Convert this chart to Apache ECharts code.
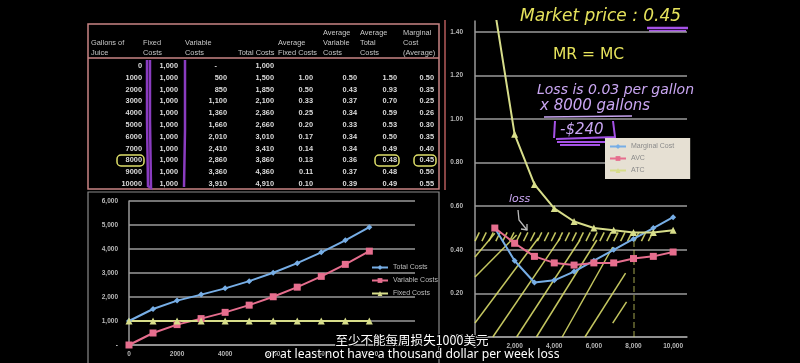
<!DOCTYPE html>
<html><head><meta charset="utf-8">
<script src="https://cdn.jsdelivr.net/npm/echarts@6/dist/echarts.min.js"></script>
<style>html,body{margin:0;padding:0;background:#000;}#c{width:800px;height:363px;}</style>
</head><body><div id="c"></div>
<script>
// ---------- data ----------
const gallons = [0,1000,2000,3000,4000,5000,6000,7000,8000,9000,10000];
const fixedCosts = [1000,1000,1000,1000,1000,1000,1000,1000,1000,1000,1000];
const variableCosts = [0,500,850,1100,1360,1660,2010,2410,2860,3360,3910];
const totalCosts = [1000,1500,1850,2100,2360,2660,3010,3410,3860,4360,4910];
const avgFixed = [null,1.00,0.50,0.33,0.25,0.20,0.17,0.14,0.13,0.11,0.10];
const avgVariable = [null,0.50,0.43,0.37,0.34,0.33,0.34,0.34,0.36,0.37,0.39];
const avgTotal = [null,1.50,0.93,0.70,0.59,0.53,0.50,0.49,0.48,0.48,0.49];
const marginalCost = [null,0.50,0.35,0.25,0.26,0.30,0.35,0.40,0.45,0.50,0.55];

const headers = [
  ["", "Gallons of", "Juice"],
  ["", "Fixed", "Costs"],
  ["", "Variable", "Costs"],
  ["", "", "Total Costs"],
  ["", "Average", "Fixed Costs"],
  ["Average", "Variable", "Costs"],
  ["Average", "Total", "Costs"],
  ["Marginal", "Cost", "(Average)"]
];
const leftXTicks = [0,2000,4000,6000,8000,10000];
const subtitleZh = "至少不能每周损失1000美元";
const subtitleEn = "or at least not have a thousand dollar per week loss";

// annotation hatch (data coordinates of right chart)
const hatchLines = [
  [[0,0.367],[1000,0.476]],
  [[0,0.275],[2100,0.468]],
  [[0,0.064],[3200,0.454]],
  [[900,0],[4300,0.454]],
  [[2100,0],[5300,0.445]],
  [[3100,0],[6150,0.445]],
  [[4400,0],[6950,0.413]],
  [[5550,0],[7600,0.293]],
  [[6950,0.064],[7650,0.161]]
];
const bandX = [0,350,700,1050,1400,1750,2100,2450,2800,3150,3500,3850,4200,4550,4900,5250,5600,5950,6300,6650,7000,7350,7700,8050,8400,8750];
const qLine = [[8000,0],[8000,0.44]];

// ---------- helpers ----------
const fmtInt = v => v === 0 ? "-" : v.toLocaleString("en-US");
const fmt2 = v => v == null ? "" : v.toFixed(2);

const colRight = [142,178,227,274,313,357,397,434];
const colLeft = [91,143,185,238,278,323,360,403];
const headY = [33,43,53];
const rowY0 = 66, rowStep = 11.8;
const tFont = '7.4px "Liberation Sans", Arial, sans-serif';

const graphics = [];
graphics.push({type:'rect', shape:{x:88,y:24,width:351,height:165}, style:{fill:'none', stroke:'#c98484', lineWidth:1.5}});
graphics.push({type:'line', shape:{x1:88,y1:58,x2:439,y2:58}, style:{stroke:'#c98484', lineWidth:1.5}});
graphics.push({type:'line', shape:{x1:445,y1:20,x2:445,y2:190}, style:{stroke:'#b45a5a', lineWidth:1.5}});
graphics.push({type:'rect', shape:{x:88,y:192,width:351,height:190}, style:{fill:'none', stroke:'#8a8a8a', lineWidth:1.2}});

headers.forEach((h,c) => h.forEach((t,r) => {
  if (!t) return;
  graphics.push({type:'text', style:{text:t, x:colLeft[c], y:headY[r], fill:'#c8c8c8', font:tFont, textAlign:'left', textVerticalAlign:'middle', align:'left', verticalAlign:'middle'}});
}));
const cols = [gallons.map(String), fixedCosts.map(fmtInt), variableCosts.map(fmtInt), totalCosts.map(fmtInt),
  avgFixed.map(fmt2), avgVariable.map(fmt2), avgTotal.map(fmt2), marginalCost.map(fmt2)];
cols.forEach((col,c) => col.forEach((t,r) => {
  if (!t) return;
  graphics.push({type:'text', style:{text:t, x:colRight[c] - (c===2 && t==='-' ? 10 : 0), y:rowY0 + r*rowStep, fill:'#dcdcdc', font:'bold '+tFont, textAlign:'right', textVerticalAlign:'middle', align:'right', verticalAlign:'middle'}});
}));
graphics.push({type:'polyline', shape:{points:[[147,60],[147,120],[148,186],[151,188],[150,120],[150,60]]}, style:{stroke:'#8a3cc0', lineWidth:2.5, fill:'none'}});
graphics.push({type:'polyline', shape:{points:[[185,60],[185,130],[184,187]]}, style:{stroke:'#8a3cc0', lineWidth:2.5, fill:'none'}});
[[117,155,27,11],[375,155,24,11],[414,155,22,11]].forEach(b => graphics.push({type:'rect', shape:{x:b[0],y:b[1],width:b[2],height:b[3],r:4}, style:{fill:'none', stroke:'#dfe06a', lineWidth:1.5}}));

const yellowInk = '#e6e35c', purpleInk = '#c9a6f2', purpleHi = '#a552e6';
const hw = '"DejaVu Sans", sans-serif';
graphics.push({type:'text', style:{text:'Market price : 0.45', x:520, y:17, fill:yellowInk, font:'italic 17px '+hw, textVerticalAlign:'middle', verticalAlign:'middle'}});
graphics.push({type:'line', shape:{x1:647,y1:28,x2:688,y2:28}, style:{stroke:purpleHi, lineWidth:2.5}});
graphics.push({type:'line', shape:{x1:649,y1:31,x2:686,y2:31}, style:{stroke:purpleHi, lineWidth:2}});
graphics.push({type:'text', style:{text:'MR = MC', x:553, y:55, fill:yellowInk, font:'15.5px '+hw, textVerticalAlign:'middle', verticalAlign:'middle'}});
graphics.push({type:'text', style:{text:'Loss is 0.03 per gallon', x:537, y:90, fill:purpleInk, font:'italic 14px '+hw, textVerticalAlign:'middle', verticalAlign:'middle'}});
graphics.push({type:'text', style:{text:'x 8000 gallons', x:540, y:106, fill:purpleInk, font:'italic 15px '+hw, textVerticalAlign:'middle', verticalAlign:'middle'}});
graphics.push({type:'line', shape:{x1:544,y1:117,x2:632,y2:116}, style:{stroke:purpleInk, lineWidth:1.5}});
graphics.push({type:'text', style:{text:'-$240', x:560, y:130, fill:purpleInk, font:'italic 15px '+hw, textVerticalAlign:'middle', verticalAlign:'middle'}});
graphics.push({type:'polyline', shape:{points:[[555,121],[554,138]]}, style:{stroke:purpleHi, lineWidth:2}});
graphics.push({type:'polyline', shape:{points:[[613,121],[615,137],[556,139]]}, style:{stroke:purpleHi, lineWidth:2, fill:'none'}});
graphics.push({type:'line', shape:{x1:557,y1:142,x2:610,y2:142}, style:{stroke:purpleHi, lineWidth:2}});
graphics.push({type:'line', shape:{x1:560,y1:145,x2:600,y2:145}, style:{stroke:purpleHi, lineWidth:2}});
graphics.push({type:'text', style:{text:'loss', x:509, y:199, fill:purpleInk, font:'italic 11px '+hw, textVerticalAlign:'middle', verticalAlign:'middle'}});
graphics.push({type:'polyline', shape:{points:[[518,210],[519,220],[527,230]]}, style:{stroke:'#bbb', lineWidth:1.3, fill:'none'}});
graphics.push({type:'polyline', shape:{points:[[521,229],[527,230],[527,224]]}, style:{stroke:'#bbb', lineWidth:1.3, fill:'none'}});

graphics.push({type:'text', style:{text:subtitleZh, x:412, y:340, fill:'#fff', font:'12.5px "Noto Sans CJK SC", sans-serif', textAlign:'center', align:'center', textVerticalAlign:'middle', verticalAlign:'middle', stroke:'#000', lineWidth:2}, z:200});
graphics.push({type:'text', style:{text:subtitleEn, x:412, y:355, fill:'#fff', font:'12.2px "Noto Sans", sans-serif', textAlign:'center', align:'center', textVerticalAlign:'middle', verticalAlign:'middle', stroke:'#000', lineWidth:2}, z:200});

// ---------- chart ----------
const cBlue = '#77aee6', cPink = '#e66e8e', cYellow = '#d7dd8a';
const axisLbl = {color:'#b8b8b8', fontSize:6.5, fontWeight:'bold', fontFamily:'"Liberation Sans", Arial, sans-serif'};
const grayLine = {lineStyle:{color:'#9a9a9a', width:1.5}};

const chart = echarts.init(document.getElementById('c'), null, {renderer:'canvas'});
chart.setOption({
  backgroundColor:'#000',
  animation:false,
  grid:[
    {left:129, top:201, width:286, height:144},
    {left:475, top:21, width:212, height:316}
  ],
  xAxis:[
    {type:'value', gridIndex:0, min:0, max:11900, interval:2000, axisLine:{show:true, lineStyle:{color:'#9a9a9a', width:1.5}}, axisTick:{show:false}, splitLine:{show:false},
     axisLabel:Object.assign({margin:6, showMaxLabel:false, formatter:v => leftXTicks.includes(v) ? String(v) : ''}, axisLbl)},
    {type:'value', gridIndex:1, min:0, max:10700, interval:2000, axisLine:{show:true, lineStyle:{color:'#9a9a9a', width:1.5}}, axisTick:{show:false}, splitLine:{show:false},
     axisLabel:Object.assign({margin:6, showMaxLabel:false}, axisLbl)}
  ],
  yAxis:[
    {type:'value', gridIndex:0, min:0, max:6000, interval:1000, axisLine:{show:true, lineStyle:{color:'#9a9a9a', width:1.5}}, axisTick:{show:false}, splitLine:grayLine,
     axisLabel:Object.assign({margin:11, formatter:v => fmtInt(v)}, axisLbl)},
    {type:'value', gridIndex:1, min:0, max:1.45, interval:0.2, axisLine:{show:true, lineStyle:{color:'#9a9a9a', width:1.5}}, axisTick:{show:false},
     splitLine:Object.assign({showMaxLine:false}, grayLine),
     axisLabel:Object.assign({margin:12, showMaxLabel:false, formatter:v => v.toFixed(2)}, axisLbl)}
  ],
  legend:[
    {data:['Total Costs','Variable Costs','Fixed Costs'], orient:'vertical', left:366, top:259, itemGap:6, itemWidth:16, itemHeight:6,
     textStyle:{color:'#bdbdbd', fontSize:7, fontFamily:'"Liberation Sans", Arial, sans-serif'}, selectedMode:false},
    {data:['Marginal Cost','AVC','ATC'], orient:'vertical', left:605, top:138, itemGap:5, itemWidth:16, itemHeight:6,
     padding:[5,16,5,4], backgroundColor:'#e6e0d3', textStyle:{color:'#8a8a8a', fontSize:7, fontFamily:'"Liberation Sans", Arial, sans-serif'}, selectedMode:false}
  ],
  graphic:{elements:graphics},
  series:[
    {name:'Total Costs', type:'line', xAxisIndex:0, yAxisIndex:0, data:gallons.map((g,i)=>[g,totalCosts[i]]),
     symbol:'diamond', symbolSize:6, color:cBlue, lineStyle:{width:2}},
    {name:'Variable Costs', type:'line', xAxisIndex:0, yAxisIndex:0, data:gallons.map((g,i)=>[g,variableCosts[i]]),
     symbol:'rect', symbolSize:7, color:cPink, lineStyle:{width:2}},
    {name:'Fixed Costs', type:'line', xAxisIndex:0, yAxisIndex:0, data:gallons.map((g,i)=>[g,fixedCosts[i]]),
     symbol:'triangle', symbolSize:7, color:cYellow, lineStyle:{width:2}},
    {type:'lines', coordinateSystem:'cartesian2d', xAxisIndex:1, yAxisIndex:1, z:1,
     data:hatchLines.map(c=>({coords:c})).concat(bandX.map(x=>({coords:[[x,0.44],[x+220,0.48]]}))),
     lineStyle:{color:'#d9dc6a', width:1.5, opacity:0.9}},
    {type:'lines', coordinateSystem:'cartesian2d', xAxisIndex:1, yAxisIndex:1, z:1,
     data:[{coords:qLine}], lineStyle:{color:'#d9dc6a', width:1.5, type:'dashed'}},
    {name:'Marginal Cost', type:'line', xAxisIndex:1, yAxisIndex:1, data:gallons.map((g,i)=>[g,marginalCost[i]]).filter(d=>d[1]!=null),
     symbol:'diamond', symbolSize:6, color:cBlue, lineStyle:{width:2}},
    {name:'AVC', type:'line', xAxisIndex:1, yAxisIndex:1, data:gallons.map((g,i)=>[g,avgVariable[i]]).filter(d=>d[1]!=null),
     symbol:'rect', symbolSize:7, color:cPink, lineStyle:{width:2}},
    {name:'ATC', type:'line', xAxisIndex:1, yAxisIndex:1, data:gallons.map((g,i)=>[g,avgTotal[i]]).filter(d=>d[1]!=null),
     symbol:'triangle', symbolSize:7, color:cYellow, lineStyle:{width:2}}
  ]
});
</script></body></html>
